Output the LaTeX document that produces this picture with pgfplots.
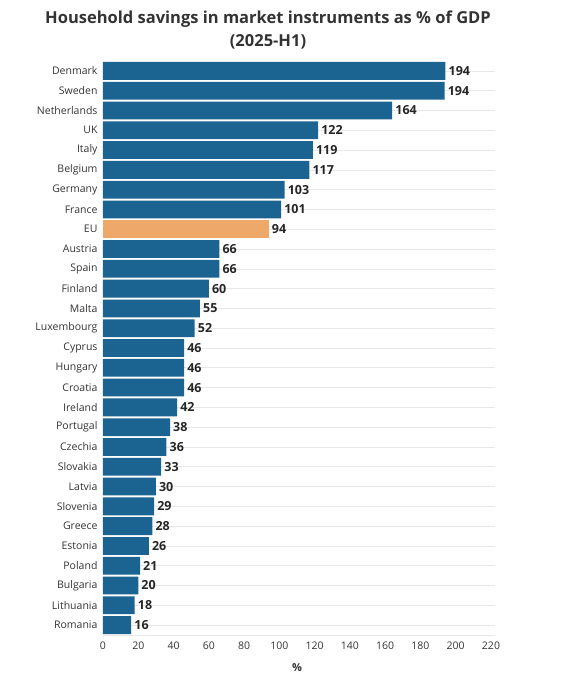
\documentclass[border=0pt]{standalone}
\usepackage{pgfplots}
\pgfplotsset{compat=1.18}
\usepackage{fontspec}
\setmainfont{Open Sans}
\definecolor{barblue}{HTML}{1B6391}
\definecolor{euorange}{HTML}{EDA86A}
\definecolor{txt}{HTML}{333333}
\definecolor{valtxt}{HTML}{262626}
\definecolor{gridc}{HTML}{E8E8E8}
\begin{document}
\begin{tikzpicture}[x=1pt,y=1pt]
\path[use as bounding box] (0,0) rectangle (566,681);
\node[font=\fontsize{16.5}{22.5}\selectfont\bfseries, text=txt, align=center] at (268,651)
  {Household savings in market instruments as \% of GDP\\(2025-H1)};
\begin{axis}[
  at={(103pt,46pt)}, anchor=south west,
  scale only axis, width=392pt, height=574pt,
  xmin=0, xmax=222.27, xtick={0,20,...,220},
  ymin=-0.5, ymax=28.5, y dir=reverse,
  ytick={0,...,28},
  yticklabels={Denmark,Sweden,Netherlands,UK,Italy,Belgium,Germany,France,EU,Austria,Spain,Finland,Malta,Luxembourg,Cyprus,Hungary,Croatia,Ireland,Portugal,Czechia,Slovakia,Latvia,Slovenia,Greece,Estonia,Poland,Bulgaria,Lithuania,Romania},
  ymajorgrids, major grid style={gridc, line width=0.6pt},
  axis x line*=bottom, axis y line*=left,
  x axis line style={gridc, line width=0.6pt, -},
  y axis line style={draw=none},
  major tick length=0pt,
  tick label style={text=txt, font=\fontsize{10.5}{12}\selectfont},
  /pgf/number format/assume math mode=true,
  xticklabel style={yshift=-3pt},
  yticklabel style={xshift=-2pt},
  xbar, bar shift=0pt, bar width=0.9,
  nodes near coords,
  nodes near coords style={font=\fontsize{12.5}{14}\selectfont\bfseries, text=valtxt, anchor=west, inner sep=3pt, /pgf/number format/fixed, /pgf/number format/precision=0},
  clip=false,
]
\addplot[fill=barblue, draw=none] coordinates {
(194.2,0) (193.7,1) (164,2) (122,3) (119,4) (117,5) (103,6) (101,7)
(66,9) (66,10) (60,11) (55,12) (52,13) (46,14) (46,15) (46,16) (42,17) (38,18) (36,19)
(33,20) (30,21) (29,22) (28,23) (26,24) (21,25) (20,26) (18,27) (16,28)};
\addplot[fill=euorange, draw=none] coordinates {(94,8)};
\end{axis}
\node[font=\fontsize{11}{13}\selectfont\bfseries, text=txt] at (297,13) {\%};
\end{tikzpicture}
\end{document}
